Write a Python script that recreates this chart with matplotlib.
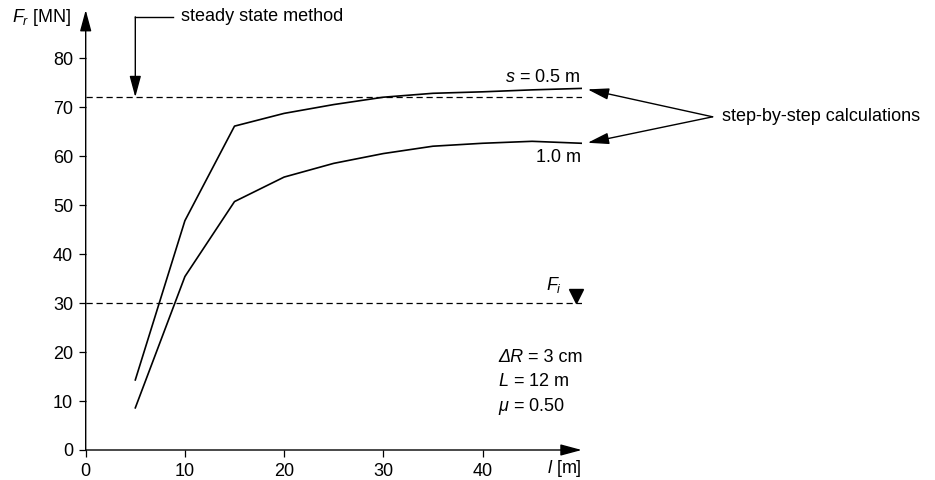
import matplotlib.pyplot as plt

plt.rcParams['font.family'] = ['Liberation Sans', 'DejaVu Sans']
plt.rcParams['mathtext.fontset'] = 'custom'
plt.rcParams['mathtext.rm'] = 'Liberation Sans'
plt.rcParams['mathtext.it'] = 'Liberation Sans:italic'
plt.rcParams['mathtext.bf'] = 'Liberation Sans:bold'

# data
l_m = [5, 10, 15, 20, 25, 30, 35, 40, 45, 50]
fr_s05 = [14.3, 46.8, 66.1, 68.7, 70.5, 72.0, 72.8, 73.1, 73.5, 73.8]
fr_s10 = [8.6, 35.4, 50.7, 55.7, 58.5, 60.5, 62.0, 62.6, 63.0, 62.6]
steady_state = 72.0
f_i = 30.0
x_ticks = [0, 10, 20, 30, 40]
y_ticks = [0, 10, 20, 30, 40, 50, 60, 70, 80]

fs = 13
fig = plt.figure(figsize=(9.35, 4.8), dpi=100)
ax = fig.add_axes([85.7/935, 30/480, 496/935, 440/480])
ax.set_xlim(0, 50)
ax.set_ylim(0, 89.8)
for s in ax.spines.values():
    s.set_visible(False)
ax.set_xticks(x_ticks)
ax.set_yticks(y_ticks)
ax.tick_params(direction='out', length=5, width=0.9, labelsize=fs, pad=4)

#axes with arrow heads
arr = dict(arrowstyle='-|>,head_length=1.3,head_width=0.35', mutation_scale=10,
           lw=1.0, color='k', shrinkA=0, shrinkB=0)
ax.annotate('', xy=(50, 0), xytext=(0, 0), arrowprops=arr, annotation_clip=False)
ax.annotate('', xy=(0, 89.8), xytext=(0, 0), arrowprops=arr, annotation_clip=False)

#curves
ax.plot(l_m, fr_s05, color='k', lw=1.2)
ax.plot(l_m, fr_s10, color='k', lw=1.2)
ax.plot([0, 50], [steady_state, steady_state], color='k', lw=0.9, ls=(0, (5, 3)))
ax.plot([0, 50], [f_i, f_i], color='k', lw=0.9, ls=(0, (5, 3)))

#labels
ax.text(-1.4, 88.2, r'$F_r$ [MN]', fontsize=fs, ha='right', va='center')
ax.text(50, -3.7, r'$l$ [m]', fontsize=fs, ha='right', va='center')
ax.text(49.9, 76.1, r'$s$ = 0.5 m', fontsize=fs, ha='right', va='center')
ax.text(49.9, 59.6, '1.0 m', fontsize=fs, ha='right', va='center')
ax.text(48.0, 33.7, r'$F_i$', fontsize=fs, ha='right', va='center')
ax.plot([49.4], [31.4], marker='v', color='k', ms=10, clip_on=False)

dr = ax.text(41.6, 18.8, 'ΔR', fontsize=fs, style='italic', ha='left', va='center')
ax.annotate(' = 3 cm', xy=(1, 0), xycoords=dr, fontsize=fs, ha='left', va='bottom')
ax.text(41.6, 13.9, r'$L$ = 12 m', fontsize=fs, ha='left', va='center')
ax.text(41.6, 8.8, r'$\mu$ = 0.50', fontsize=fs, ha='left', va='center')

#steady state method pointer
ax.plot([8.8, 5], [88.4, 88.4], color='k', lw=1.0, clip_on=False)
ax.annotate('', xy=(5, steady_state), xytext=(5, 88.4), arrowprops=arr, annotation_clip=False)
ax.text(9.6, 88.4, 'steady state method', fontsize=fs, ha='left', va='center')

#step-by-step pointers
ax.text(64.1, 68.0, 'step-by-step calculations', fontsize=fs, ha='left', va='center')
ax.annotate('', xy=(50.6, 73.6), xytext=(63.2, 68.0), arrowprops=arr, annotation_clip=False)
ax.annotate('', xy=(50.6, 62.7), xytext=(63.2, 68.0), arrowprops=arr, annotation_clip=False)

fig.savefig('out.png', dpi=100)
